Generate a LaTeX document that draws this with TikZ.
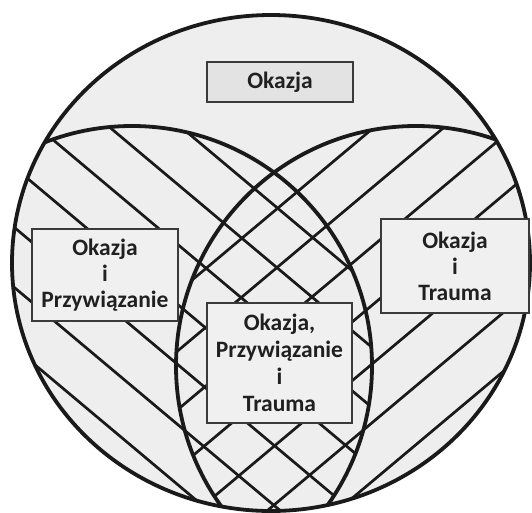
\documentclass[tikz,border=0pt]{standalone}
\usepackage{fontspec}
\setmainfont{Carlito}
\definecolor{tlo}{HTML}{EEEEEE}
\definecolor{tloramki}{HTML}{F0F0F0}
\definecolor{tlookazji}{HTML}{E3E3E3}
\definecolor{brzeg}{HTML}{3A3A3A}
\definecolor{napis}{HTML}{202020}
\definecolor{linia}{HTML}{1A1A1A}
\begin{document}
\begin{tikzpicture}[x=1pt,y=-1pt,
  pole/.style={draw=linia,line width=3.8pt},
  kreska/.style={draw=linia,line width=2.7pt},
  ramka/.style={draw=brzeg,line width=1.3pt,fill=tloramki,text=napis,inner sep=0pt,
    font=\fontsize{23.5}{26}\selectfont\bfseries,align=center}]
\useasboundingbox (0,0) rectangle (532,512);
\fill[tlo] (271,263) ellipse (259 and 248);
% kreskowanie: Przywiazanie
\begin{scope}
\clip (271,263) ellipse (259 and 248);
\clip (132,366) circle (240);
\foreach \c in {-19,27,...,257} {\draw[kreska,rotate=-40] (-900,\c) -- (900,\c);}
\end{scope}
% kreskowanie: Trauma
\begin{scope}
\clip (271,263) ellipse (259 and 248);
\clip (416,366) circle (240);
\foreach \c in {338,383,...,608} {\draw[kreska,rotate=40] (-900,\c) -- (900,\c);}
\end{scope}
\begin{scope}
\clip (271,263) ellipse (259 and 248);
\draw[pole] (132,366) circle (240);
\draw[pole] (416,366) circle (240);
\end{scope}
\draw[pole] (271,263) ellipse (259 and 248);
\node[ramka,fill=tlookazji,minimum width=146pt,minimum height=40pt] (okazja) at (280,82) {Okazja};
\node[ramka,minimum width=146pt,minimum height=92pt] (okprz) at (105,275) {Okazja\\i\\Przywiązanie};
\node[ramka,minimum width=148pt,minimum height=94pt] (oktr) at (455,266) {Okazja\\i\\Trauma};
\node[ramka,font=\fontsize{23.5}{27}\selectfont\bfseries,minimum width=145pt,minimum height=120pt] (okprztr) at (279.5,363) {Okazja,\\Przywiązanie\\i\\Trauma};
\end{tikzpicture}
\end{document}
